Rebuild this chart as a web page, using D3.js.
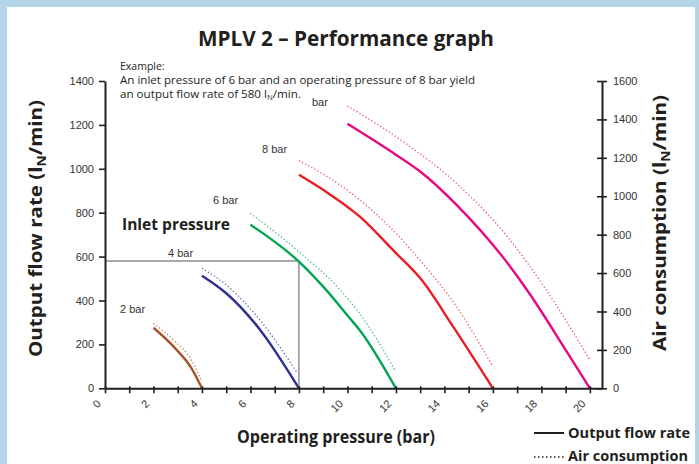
<!DOCTYPE html>
<html lang="en">
<head>
  <meta charset="UTF-8">
  <title>MPLV 2 – Performance graph</title>
  <style>
    html, body {
      margin: 0;
      padding: 0;
      background-color: rgb(179, 213, 231);
    }

    .axis path, .axis line {
      stroke: #231f20;
    }

    .axis path {
      stroke-width: 2;
    }

    .axis line {
      stroke-width: 1.6;
    }

    .axis text {
      font-family: "Liberation Sans", Arial, sans-serif;
      font-size: 11px;
      fill: #333;
    }

    .label {
      font-family: "Liberation Sans", Arial, sans-serif;
      font-size: 11px;
      fill: #333;
    }

    .bold {
      font-family: "Open Sans", sans-serif;
      font-weight: bold;
      fill: #231f20;
    }
  </style>
</head>
<body>
  <script src="https://d3js.org/d3.v7.min.js"></script>
  <script>
    const width = 699,
          height = 464

    // inlet pressures, one curve pair each
    const inletLabels = ['2 bar', '4 bar', '6 bar', '8 bar', 'bar']
    const colors = ['#a8542a', '#2e3192', '#00a651', '#ed1c24', '#e6097f']

    // output flow rate (left axis, lN/min) against operating pressure (bar)
    const flow2 = [[2, 276], [2.9, 182], [3.57, 91], [4, 0]]
    const flow4 = [[4, 513], [5, 433], [6.4, 266], [8, 0]]
    const flow6 = [[6, 745], [8, 577], [9, 463], [10.1, 319], [10.5, 266], [12, 0]]
    const flow8 = [[8, 973], [9, 904], [10.5, 783], [12, 616], [13, 502], [14.36, 281], [16, 0]]
    const flow10 = [[10, 1205], [12, 1064], [13, 988], [14.5, 836], [16.5, 585], [17.5, 433], [19, 175], [20, 0]]

    // air consumption (right axis, lN/min)
    const air2 = [[2, 338], [2.9, 243], [3.57, 147], [4, 34]]
    const air4 = [[4, 625], [5, 538], [6.5, 338], [7.9, 86]]
    const air6 = [[6, 911], [8, 711], [9.7, 512], [10.5, 390], [12, 86]]
    const air8 = [[8, 1185], [9.7, 1058], [12, 807], [13.1, 651], [14.5, 425], [16, 112]]
    const air10 = [[10, 1470], [12.4, 1275], [14.5, 1067], [16.6, 789], [18.2, 512], [20, 147]]

    const flowSeries = [flow2, flow4, flow6, flow8, flow10]
    const airSeries = [air2, air4, air6, air8, air10]

    const xTicks = d3.range(0, 21, 1)
    const leftTicks = d3.range(0, 1401, 200)
    const rightTicks = d3.range(0, 1601, 200)

    // worked example: 6 bar inlet, 8 bar operating -> 580 lN/min
    const example = {pressure: 8, flow: 580}

    const x = d3.scaleLinear().domain([0, 20.5]).range([105, 602])
    const yLeft = d3.scaleLinear().domain([0, 1400]).range([388.3, 81])
    const yRight = d3.scaleLinear().domain([0, 1600]).range([388.3, 81])

    const svg = d3.select('body')
      .append('svg')
      .attr('width', width)
      .attr('height', height)
      .style('display', 'block')

    // white panel inside the blue frame
    svg.append('rect')
      .attr('x', 7).attr('y', 7)
      .attr('width', 688).attr('height', height - 7)
      .attr('fill', '#fff')

    svg.append('text')
      .attr('class', 'bold')
      .attr('x', 198).attr('y', 46)
      .attr('font-size', 21)
      .attr('textLength', 296).attr('lengthAdjust', 'spacingAndGlyphs')
      .text('MPLV 2 – Performance graph')

    // example note
    const note = svg.append('g')
      .attr('font-family', '"Open Sans", sans-serif')
      .attr('font-size', 10.5)
      .attr('fill', '#231f20')
    note.append('text').attr('x', 120).attr('y', 70).text('Example:')
    note.append('text').attr('x', 120).attr('y', 84)
      .attr('textLength', 355).attr('lengthAdjust', 'spacingAndGlyphs')
      .text('An inlet pressure of 6 bar and an operating pressure of 8 bar yield')
    const l3 = note.append('text').attr('x', 120).attr('y', 98)
      .attr('textLength', 181).attr('lengthAdjust', 'spacingAndGlyphs')
    l3.append('tspan').text('an output flow rate of 580 l')
    l3.append('tspan').attr('font-size', 7).attr('dy', 1.5).text('N')
    l3.append('tspan').attr('dy', -1.5).text('/min.')

    // example guide lines
    svg.append('path')
      .attr('d', `M${x(0)},${yLeft(example.flow)}H${x(example.pressure)}V${yLeft(0)}`)
      .attr('fill', 'none')
      .attr('stroke', '#555')
      .attr('stroke-width', 1)

    const line = scale => d3.line()
      .x(d => x(d[0]))
      .y(d => scale(d[1]))
      .curve(d3.curveMonotoneX)

    svg.append('g')
      .selectAll('path')
        .data(airSeries)
      .enter()
        .append('path')
        .attr('d', line(yRight))
        .attr('fill', 'none')
        .attr('stroke', (d, i) => colors[i])
        .attr('stroke-opacity', 0.75)
        .attr('stroke-width', 1.3)
        .attr('stroke-dasharray', '1.3 2.2')

    svg.append('g')
      .selectAll('path')
        .data(flowSeries)
      .enter()
        .append('path')
        .attr('d', line(yLeft))
        .attr('fill', 'none')
        .attr('stroke', (d, i) => colors[i])
        .attr('stroke-width', 2.4)

    // axes
    const gx = svg.append('g')
      .attr('class', 'axis')
      .attr('transform', `translate(0,${yLeft(0)})`)
      .call(d3.axisBottom(x).tickValues(xTicks).tickSize(5).tickSizeOuter(0)
        .tickFormat(d => d % 2 === 0 ? d : ''))
    gx.selectAll('.tick line').attr('y1', -2)
    gx.selectAll('.tick text')
      .attr('text-anchor', 'end')
      .attr('dy', 0)
      .attr('transform', 'translate(-4,16) rotate(-45)')
      .attr('y', 0).attr('x', 0)

    svg.append('g')
      .attr('class', 'axis')
      .attr('transform', `translate(${x(0)},0)`)
      .call(d3.axisLeft(yLeft).tickValues(leftTicks).tickFormat(d => d)
        .tickSize(6).tickPadding(5).tickSizeOuter(0))

    const gr = svg.append('g')
      .attr('class', 'axis')
      .attr('transform', `translate(${x.range()[1]},0)`)
      .call(d3.axisRight(yRight).tickValues(rightTicks).tickFormat(d => d)
        .tickSize(5).tickPadding(6).tickSizeOuter(0))
    gr.selectAll('.tick line').attr('x1', -5)

    // curve labels
    const labelPos = [[120, 313], [168, 257], [213, 204], [262, 153], [312, 106]]
    svg.append('g')
      .selectAll('text')
        .data(inletLabels)
      .enter()
        .append('text')
        .attr('class', 'label')
        .attr('x', (d, i) => labelPos[i][0])
        .attr('y', (d, i) => labelPos[i][1])
        .text(d => d)

    svg.append('text')
      .attr('class', 'bold')
      .attr('x', 122).attr('y', 230)
      .attr('font-size', 16)
      .attr('textLength', 108).attr('lengthAdjust', 'spacingAndGlyphs')
      .text('Inlet pressure')

    // axis titles
    svg.append('text')
      .attr('class', 'bold')
      .attr('x', 237).attr('y', 443)
      .attr('font-size', 17)
      .attr('textLength', 198).attr('lengthAdjust', 'spacingAndGlyphs')
      .text('Operating pressure (bar)')

    const unitTitle = (sel, label) => {
      sel.append('tspan').text(label + ' (l')
      sel.append('tspan').attr('font-size', 12).attr('dy', 4).text('N')
      sel.append('tspan').attr('dy', -4).text('/min)')
    }

    svg.append('text')
      .attr('class', 'bold')
      .attr('transform', 'translate(42,357) rotate(-90)')
      .attr('font-size', 18)
      .attr('textLength', 257).attr('lengthAdjust', 'spacingAndGlyphs')
      .call(unitTitle, 'Output flow rate')

    svg.append('text')
      .attr('class', 'bold')
      .attr('transform', 'translate(666,351) rotate(-90)')
      .attr('font-size', 18)
      .attr('textLength', 256).attr('lengthAdjust', 'spacingAndGlyphs')
      .call(unitTitle, 'Air consumption')

    // legend
    svg.append('line')
      .attr('x1', 534).attr('x2', 564).attr('y1', 433).attr('y2', 433)
      .attr('stroke', '#231f20').attr('stroke-width', 2)
    svg.append('line')
      .attr('x1', 534).attr('x2', 564).attr('y1', 457).attr('y2', 457)
      .attr('stroke', '#231f20').attr('stroke-width', 1.5)
      .attr('stroke-dasharray', '1.5 2.5')
    svg.append('text')
      .attr('class', 'bold')
      .attr('x', 568).attr('y', 438)
      .attr('font-size', 14)
      .attr('textLength', 122).attr('lengthAdjust', 'spacingAndGlyphs')
      .text('Output flow rate')
    svg.append('text')
      .attr('class', 'bold')
      .attr('x', 568).attr('y', 461)
      .attr('font-size', 14)
      .attr('textLength', 120).attr('lengthAdjust', 'spacingAndGlyphs')
      .text('Air consumption')
  </script>
</body>
</html>
